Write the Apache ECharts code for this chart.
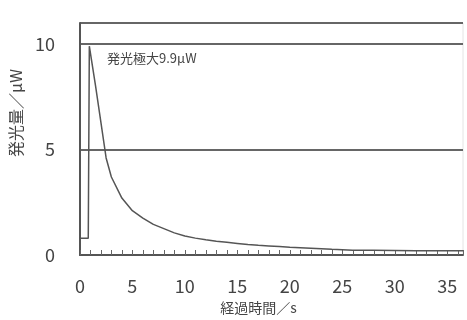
<!DOCTYPE html>
<html>
<head>
<meta charset="utf-8">
<script src="https://cdn.jsdelivr.net/npm/echarts@6/dist/echarts.min.js"></script>
<style>
  html, body { margin: 0; padding: 0; background: #fff; }
  #chart { width: 467px; height: 320px; }
</style>
</head>
<body>
<div id="chart"></div>
<script>
// 経過時間 (s) と 発光量 (μW)
const times = [0, 0.8, 0.9, 1.5, 2, 2.5, 3, 3.8, 4, 5, 6, 7, 8, 9, 10, 11, 12, 13, 14, 15, 16, 17, 18, 19, 20, 22, 24, 26, 28, 30, 32, 34, 36.5];
const power = [0.8, 0.8, 9.9, 8.0, 6.3, 4.6, 3.7, 2.9, 2.7, 2.1, 1.75, 1.45, 1.25, 1.05, 0.9, 0.8, 0.72, 0.65, 0.6, 0.55, 0.5, 0.46, 0.43, 0.4, 0.37, 0.32, 0.27, 0.23, 0.22, 0.21, 0.2, 0.2, 0.2];
const peakLabel = '発光極大9.9μW';

const points = times.map((t, i) => [t, power[i]]);
const font = '"Noto Sans CJK JP", "Noto Sans", sans-serif';

const myChart = echarts.init(document.getElementById('chart'));

myChart.setOption({
  animation: false,
  grid: {
    left: 77,
    right: 4,
    top: 23,
    bottom: 61,
    show: true,
    borderColor: '#e4e4e4',
    borderWidth: 1,
  },
  xAxis: {
    type: 'value',
    min: 0,
    max: 36.5,
    interval: 5,
    name: '経過時間／s',
    nameLocation: 'middle',
    nameGap: 46,
    nameTextStyle: { fontFamily: font, fontSize: 14, color: '#444', padding: [0, 26, 0, 0] },
    axisLine: { show: true, onZero: false, lineStyle: { color: '#555', width: 2 } },
    axisTick: { show: true, inside: true, length: 5, lineStyle: { color: '#666', width: 1 } },
    minorTick: { show: true, splitNumber: 5, length: 5, lineStyle: { color: '#666', width: 1 } },
    splitLine: { show: false },
    axisLabel: {
      showMaxLabel: false,
      fontFamily: font,
      fontSize: 18,
      color: '#444',
      margin: 22,
    },
  },
  yAxis: {
    type: 'value',
    min: 0,
    max: 11,
    interval: 5,
    name: '発光量／μW',
    nameLocation: 'middle',
    nameRotate: 90,
    nameGap: 50,
    nameTextStyle: { fontFamily: font, fontSize: 16, color: '#444', padding: [0, 0, 0, 52] },
    axisLine: { show: true, lineStyle: { color: '#555', width: 2 } },
    axisTick: { show: false },
    splitLine: { show: true, lineStyle: { color: '#666', width: 2 } },
    axisLabel: {
      showMaxLabel: false,
      fontFamily: font,
      fontSize: 18,
      color: '#444',
      margin: 25,
    },
  },
  graphic: [
    {
      type: 'text',
      left: 107,
      top: 52,
      style: { text: peakLabel, font: '13px ' + font, fill: '#444' },
    },
  ],
  series: [
    {
      type: 'line',
      data: points,
      symbol: 'none',
      smooth: false,
      lineStyle: { color: '#555', width: 1.5 },
    },
  ],
});
</script>
</body>
</html>
